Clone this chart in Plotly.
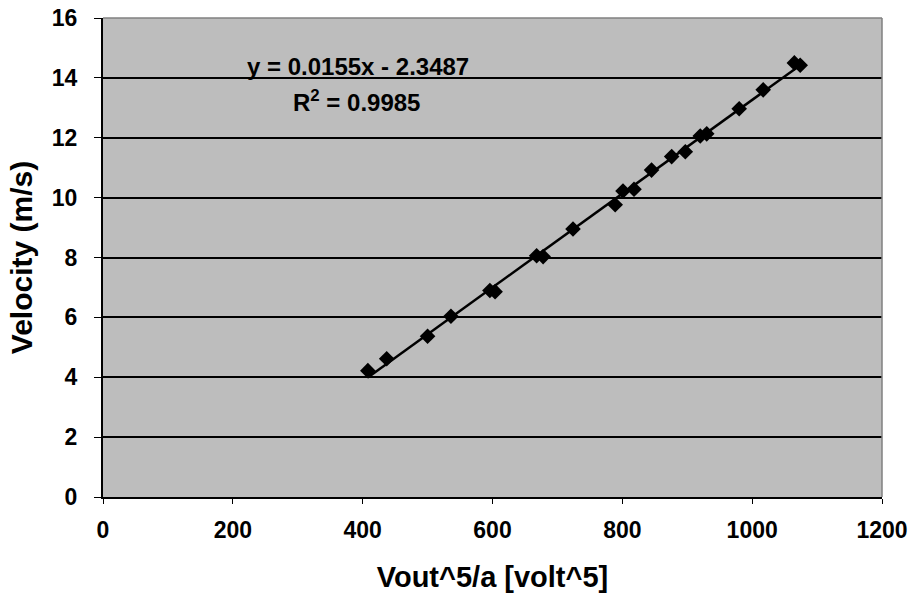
import numpy as np
import plotly.graph_objects as go

# Data
vout5_a = [408, 437, 500, 536, 596, 604, 668, 678, 724, 789, 801, 818, 845,
           876, 897, 920, 930, 980, 1017, 1065, 1074]
velocity = [4.22, 4.62, 5.37, 6.04, 6.90, 6.86, 8.06, 8.03, 8.95, 9.76, 10.22,
            10.28, 10.92, 11.37, 11.53, 12.06, 12.13, 12.97, 13.60, 14.50, 14.42]

x_ticks = [0, 200, 400, 600, 800, 1000, 1200]
y_ticks = [0, 2, 4, 6, 8, 10, 12, 14, 16]
eq_text = "y = 0.0155x - 2.3487"
r2_text = "R<sup>2</sup> = 0.9985"

coef = np.polyfit(vout5_a, velocity, 1)
xl = np.array([min(vout5_a), max(vout5_a)])
yl = np.polyval(coef, xl)

font = "Liberation Sans, Arial, sans-serif"

fig = go.Figure()
fig.add_trace(go.Scatter(x=xl, y=yl, mode="lines",
                         line=dict(color="black", width=2.5), showlegend=False,
                         hoverinfo="skip"))
fig.add_trace(go.Scatter(x=vout5_a, y=velocity, mode="markers",
                         marker=dict(symbol="diamond", size=12, color="black"),
                         showlegend=False))

fig.add_annotation(x=393, y=14.38, xref="x", yref="y", text="<b>" + eq_text + "</b>",
                   showarrow=False, xanchor="center", yanchor="middle",
                   font=dict(family=font, size=24, color="black"))
fig.add_annotation(x=390, y=13.22, xref="x", yref="y", text="<b>" + r2_text + "</b>",
                   showarrow=False, xanchor="center", yanchor="middle",
                   font=dict(family=font, size=24, color="black"))

tickfont = dict(family=font, size=23, color="black", weight="bold")

fig.update_layout(
    width=912, height=602,
    margin=dict(l=103, r=30, t=18, b=105),
    paper_bgcolor="white",
    plot_bgcolor="#bdbdbd",
    font=dict(family=font, color="black"),
    xaxis=dict(range=[0, 1200], tickvals=x_ticks, showgrid=False,
               showline=True, linecolor="black", linewidth=2, mirror=False,
               ticks="outside", ticklen=5, tickcolor="black",
               tickfont=tickfont, ticklabelstandoff=6, automargin=False,
               title=dict(text="<b>Vout^5/a [volt^5]</b>",
                          font=dict(family=font, size=29, color="black"),
                          standoff=25),
               zeroline=False),
    yaxis=dict(range=[0, 16], tickvals=y_ticks, showgrid=True,
               gridcolor="black", gridwidth=1.5,
               showline=True, linecolor="black", linewidth=2,
               ticks="outside", ticklen=7, tickcolor="black",
               tickfont=tickfont, ticklabelstandoff=12, automargin=False,
               title=dict(text="<b>Velocity (m/s)</b>",
                          font=dict(family=font, size=30, color="black"),
                          standoff=10),
               zeroline=False),
)
# grey border on top and right of the plot area
fig.add_shape(type="line", xref="paper", yref="paper", x0=0, x1=1, y0=1, y1=1,
              line=dict(color="#808080", width=1.5))
fig.add_shape(type="line", xref="paper", yref="paper", x0=1, x1=1, y0=0, y1=1,
              line=dict(color="#808080", width=1.5))

fig.write_html("out.html")
